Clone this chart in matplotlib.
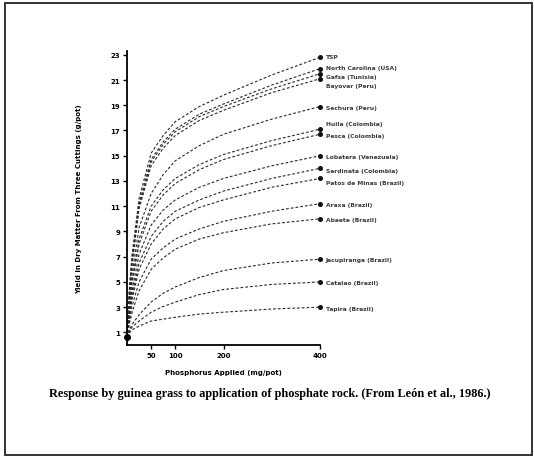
import matplotlib.pyplot as plt
from matplotlib.patches import Rectangle

# phosphorus applied (mg/pot)
rate = [0, 5, 10, 25, 50, 75, 100, 150, 200, 300, 400]

rocks = ['TSP', 'North Carolina (USA)', 'Gafsa (Tunisia)', 'Bayovar (Peru)',
         'Sechura (Peru)', 'Huila (Colombia)', 'Pesca (Colombia)',
         'Lobatera (Venezuela)', 'Sardinata (Colombia)', 'Patos de Minas (Brazil)',
         'Araxa (Brazil)', 'Abaete (Brazil)', 'Jacupiranga (Brazil)',
         'Catalao (Brazil)', 'Tapira (Brazil)']

tsp = [0.6, 4.5, 7.0, 11.6, 15.2, 16.6, 17.7, 18.9, 19.8, 21.4, 22.8]
north_carolina = [0.6, 4.2, 6.6, 11.2, 14.7, 16.1, 17.1, 18.3, 19.1, 20.6, 21.9]
gafsa = [0.6, 4.1, 6.4, 11.0, 14.5, 15.9, 16.9, 18.1, 18.9, 20.3, 21.5]
bayovar = [0.6, 4.0, 6.2, 10.8, 14.2, 15.6, 16.6, 17.8, 18.6, 20.0, 21.1]
sechura = [0.6, 3.3, 5.5, 9.3, 12.0, 13.5, 14.6, 15.8, 16.7, 17.9, 18.9]
huila = [0.6, 3.0, 5.0, 8.4, 11.0, 12.3, 13.2, 14.3, 15.1, 16.2, 17.1]
pesca = [0.6, 2.9, 4.8, 8.0, 10.6, 11.9, 12.8, 13.9, 14.7, 15.8, 16.7]
lobatera = [0.6, 2.6, 4.2, 7.2, 9.5, 10.7, 11.5, 12.5, 13.2, 14.2, 15.0]
sardinata = [0.6, 2.4, 3.8, 6.5, 8.6, 9.8, 10.6, 11.5, 12.2, 13.2, 14.0]
patos = [0.6, 2.2, 3.5, 6.0, 8.0, 9.2, 10.0, 10.9, 11.5, 12.5, 13.2]
araxa = [0.6, 1.9, 3.0, 5.0, 6.8, 7.7, 8.4, 9.2, 9.8, 10.6, 11.2]
abaete = [0.6, 1.7, 2.5, 4.3, 6.0, 6.9, 7.6, 8.4, 8.9, 9.6, 10.0]
jacupiranga = [0.6, 1.2, 1.6, 2.4, 3.4, 4.1, 4.6, 5.35, 5.9, 6.5, 6.8]
catalao = [0.6, 1.1, 1.4, 1.9, 2.6, 3.05, 3.4, 4.0, 4.4, 4.8, 5.0]
tapira = [0.6, 0.95, 1.2, 1.5, 1.9, 2.05, 2.2, 2.45, 2.6, 2.85, 3.0]

yields = [tsp, north_carolina, gafsa, bayovar, sechura, huila, pesca, lobatera,
          sardinata, patos, araxa, abaete, jacupiranga, catalao, tapira]

# where each label sits (data units), spread out where curves bunch up
label_y = [22.9, 22.0, 21.3, 20.55, 18.8, 17.55, 16.6, 14.95, 13.85, 12.9,
           11.15, 9.95, 6.8, 4.98, 2.92]

y_ticks = [1, 3, 5, 7, 9, 11, 13, 15, 17, 19, 21, 23]
x_ticks = [50, 100, 200, 400]

fig = plt.figure(figsize=(5.34, 4.6), dpi=100)
fig.patches.append(Rectangle((5 / 534, 4 / 460), 527 / 534, 452 / 460,
                             transform=fig.transFigure, fill=False,
                             ec='#333333', lw=1.4))

ax = fig.add_axes([127 / 534, 1 - 346 / 460, 193 / 534, 294 / 460])

for name, ys, ly in zip(rocks, yields, label_y):
    ax.plot(rate, ys, color='#2a2a2a', lw=0.8, dashes=(2.5, 1.8), clip_on=False)
    ax.plot(rate[-1], ys[-1], marker='o', ms=2.6, color='#111111', clip_on=False)
    ax.text(rate[-1] + 12, ly, name, fontsize=4.3, fontweight='bold',
            va='center', ha='left', color='#3a3a3a')

ax.plot(0, 0.6, marker='o', ms=4, color='black', clip_on=False)

ax.set_xlim(0, 400)
ax.set_ylim(0, 23.3)
ax.set_xticks(x_ticks)
ax.set_yticks(y_ticks)
ax.tick_params(labelsize=5, length=3, width=1, pad=2)
for lab in ax.get_xticklabels() + ax.get_yticklabels():
    lab.set_fontweight('bold')
ax.spines['top'].set_visible(False)
ax.spines['right'].set_visible(False)
ax.spines['left'].set_linewidth(1.3)
ax.spines['bottom'].set_linewidth(1.3)

ax.set_xlabel('Phosphorus Applied (mg/pot)', fontsize=5, fontweight='bold', labelpad=8)
ax.set_ylabel('Yield in Dry Matter From Three Cuttings (g/pot)', fontsize=5,
              fontweight='bold', labelpad=20)

fig.text(0.505, 1 - 394 / 460,
         'Response by guinea grass to application of phosphate rock. (From Le\u00f3n et al., 1986.)',
         ha='center', va='center', fontsize=8.8, fontweight='bold',
         family='Liberation Serif')

fig.savefig('out.png', dpi=100)
